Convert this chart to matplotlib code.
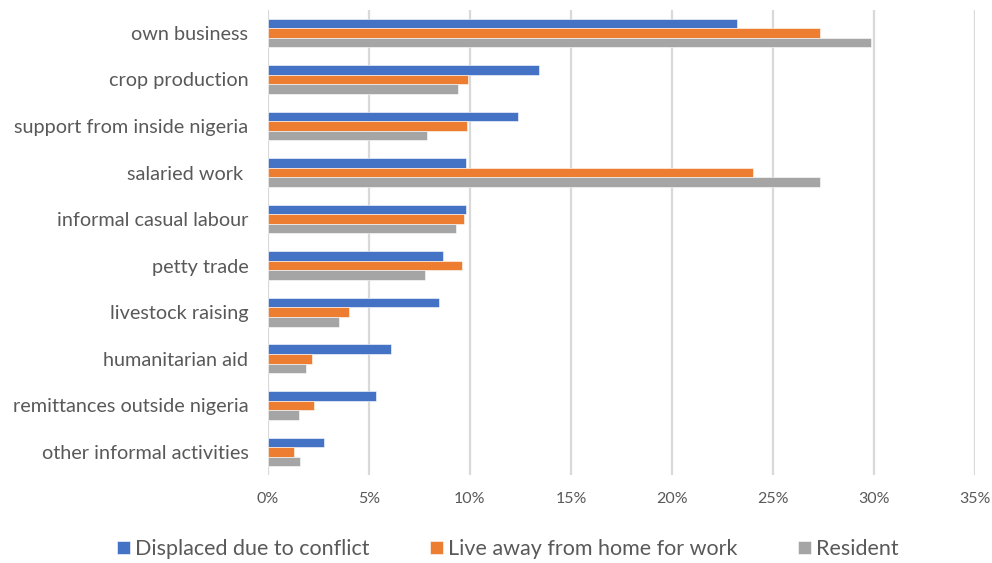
import numpy as np
import matplotlib.pyplot as plt
from matplotlib.ticker import FuncFormatter

plt.rcParams['font.family'] = ['Lato', 'DejaVu Sans']

categories = [
    "own business",
    "crop production",
    "support from inside nigeria",
    "salaried work ",
    "informal casual labour",
    "petty trade",
    "livestock raising",
    "humanitarian aid",
    "remittances outside nigeria",
    "other informal activities",
]
series_names = ["Displaced due to conflict", "Live away from home for work", "Resident"]
displaced = [23.2, 13.4, 12.4, 9.8, 9.8, 8.65, 8.45, 6.1, 5.35, 2.8]
live_away = [27.3, 9.9, 9.85, 24.0, 9.7, 9.6, 4.0, 2.2, 2.3, 1.3]
resident = [29.85, 9.4, 7.9, 27.3, 9.3, 7.8, 3.5, 1.9, 1.55, 1.6]
xticks = [0, 5, 10, 15, 20, 25, 30, 35]

colors = ["#4472C4", "#ED7D31", "#A5A5A5"]
text_color = "#595959"

fig = plt.figure(figsize=(9.92, 5.63), dpi=100)
ax = fig.add_axes([0.270, 0.156, 0.713, 0.827])

y = np.arange(len(categories))
h = 0.205
for i, (vals, name, c) in enumerate(zip([displaced, live_away, resident], series_names, colors)):
    ax.barh(y + (i - 1) * h, vals, height=h, color=c, label=name,
            edgecolor="white", linewidth=0.4, zorder=3)

ax.set_ylim(len(categories) - 0.5, -0.5)
ax.set_xlim(0, 35)
ax.set_yticks(y)
ax.set_yticklabels(categories, fontsize=14.3, color=text_color)
ax.set_xticks(xticks)
ax.xaxis.set_major_formatter(FuncFormatter(lambda v, p: f"{v:.0f}%"))
ax.tick_params(axis="x", labelsize=11.5, colors=text_color, length=0, pad=12)
ax.tick_params(axis="y", length=0, pad=14)
ax.grid(axis="x", color="#D9D9D9", linewidth=1.6, zorder=0)
for s in ax.spines.values():
    s.set_visible(False)

handles, labels = ax.get_legend_handles_labels()
fig.legend(handles, labels, loc="center", bbox_to_anchor=(0.512, 0.025), ncol=3,
           frameon=False, fontsize=15.5, labelcolor=text_color, handlelength=0.6,
           handleheight=0.6, handletextpad=0.25, columnspacing=2.8)

fig.savefig("out.png", dpi=100)
